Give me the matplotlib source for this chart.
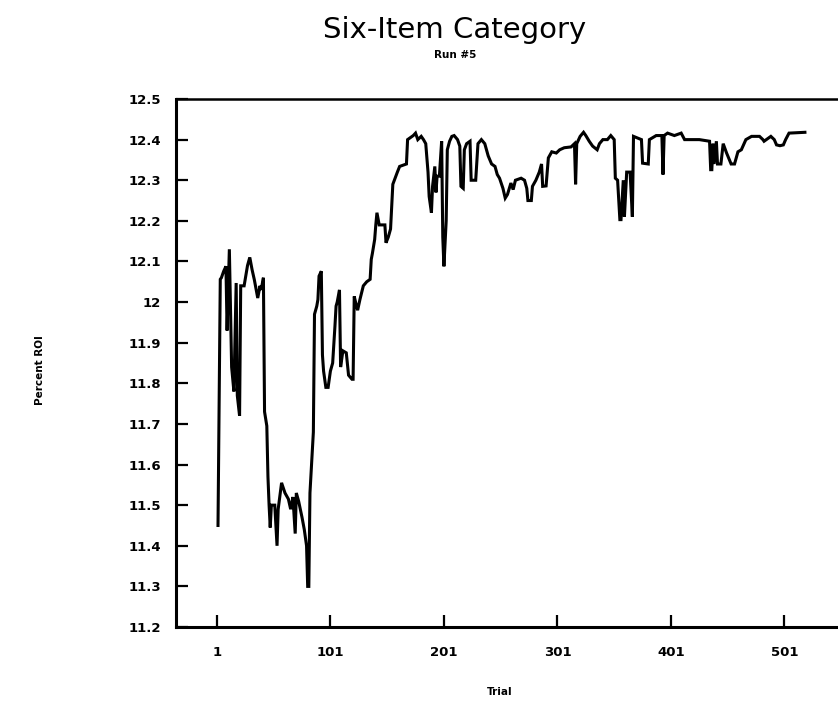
import matplotlib
matplotlib.use("Agg")
import matplotlib.pyplot as plt

# Percent ROI per trial (trial number, value)
trials = [2, 4, 5, 7, 9, 10, 12, 14, 16, 18, 19, 21, 22, 25, 28, 30, 32, 34, 37, 39,
          40, 42, 43, 45, 46, 47, 48, 49, 52, 54, 55, 58, 61, 64, 66, 68, 70, 71, 73, 76,
          78, 80, 81, 82, 83, 86, 87, 89, 90, 91, 93, 94, 95, 97, 99, 101, 103, 105, 106, 107,
          109, 110, 112, 115, 117, 120, 121, 122, 124, 125, 127, 130, 133, 136, 137, 138, 140, 141, 142, 144,
          146, 149, 150, 152, 154, 156, 158, 160, 162, 168, 169, 174, 176, 178, 181, 183, 185, 187, 188, 190,
          191, 193, 194, 195, 197, 199, 200, 201, 202, 203, 204, 206, 208, 210, 213, 215, 216, 218, 219, 221,
          224, 225, 227, 229, 231, 234, 237, 240, 243, 246, 248, 250, 253, 255, 257, 260, 262, 264, 269, 272,
          274, 275, 278, 279, 282, 285, 287, 288, 291, 293, 296, 300, 303, 307, 313, 316, 317, 318, 321, 324,
          326, 329, 332, 336, 338, 341, 345, 348, 351, 352, 354, 356, 357, 359, 360, 362, 365, 367, 368, 375,
          376, 381, 382, 388, 393, 394, 395, 398, 404, 410, 413, 419, 426, 435, 436, 437, 438, 439, 441, 442,
          445, 447, 450, 454, 457, 460, 463, 467, 472, 479, 482, 483, 485, 489, 492, 494, 497, 500, 502, 505,
          519]
roi = [11.45, 12.056, 12.06, 12.076, 12.088, 11.93, 12.13, 11.84, 11.78, 12.047, 11.77, 11.72, 12.04, 12.04, 12.09, 12.11, 12.08, 12.055, 12.01, 12.04,
       12.03, 12.06, 11.73, 11.695, 11.57, 11.50, 11.445, 11.50, 11.50, 11.40, 11.49, 11.555, 11.53, 11.515, 11.49, 11.52, 11.43, 11.53, 11.51, 11.47,
       11.44, 11.40, 11.30, 11.30, 11.53, 11.68, 11.97, 11.99, 12.006, 12.064, 12.076, 11.87, 11.83, 11.79, 11.79, 11.83, 11.85, 11.94, 11.99, 12.0,
       12.03, 11.84, 11.88, 11.875, 11.82, 11.81, 11.81, 12.014, 11.99, 11.98, 12.006, 12.04, 12.05, 12.056, 12.105, 12.12, 12.154, 12.19, 12.22, 12.19,
       12.19, 12.19, 12.146, 12.16, 12.18, 12.29, 12.305, 12.32, 12.334, 12.34, 12.40, 12.41, 12.416, 12.40, 12.408, 12.40, 12.39, 12.32, 12.26, 12.22,
       12.285, 12.334, 12.27, 12.31, 12.31, 12.396, 12.16, 12.088, 12.146, 12.20, 12.375, 12.396, 12.408, 12.41, 12.40, 12.384, 12.285, 12.28, 12.375, 12.39,
       12.396, 12.30, 12.30, 12.30, 12.39, 12.40, 12.39, 12.36, 12.34, 12.334, 12.314, 12.305, 12.28, 12.256, 12.265, 12.293, 12.277, 12.30, 12.305, 12.30,
       12.28, 12.25, 12.25, 12.285, 12.30, 12.32, 12.34, 12.285, 12.286, 12.355, 12.37, 12.367, 12.375, 12.38, 12.382, 12.39, 12.29, 12.39, 12.408, 12.418,
       12.41, 12.396, 12.384, 12.375, 12.39, 12.40, 12.40, 12.41, 12.40, 12.305, 12.30, 12.203, 12.203, 12.30, 12.21, 12.32, 12.32, 12.21, 12.408, 12.40,
       12.342, 12.34, 12.40, 12.41, 12.41, 12.314, 12.41, 12.416, 12.41, 12.416, 12.40, 12.40, 12.40, 12.396, 12.326, 12.326, 12.39, 12.34, 12.396, 12.34,
       12.34, 12.39, 12.367, 12.34, 12.34, 12.37, 12.375, 12.40, 12.408, 12.408, 12.40, 12.396, 12.40, 12.408, 12.40, 12.387, 12.385, 12.387, 12.40, 12.416,
       12.418]

xticks = [1, 101, 201, 301, 401, 501]
yticks = [11.2, 11.3, 11.4, 11.5, 11.6, 11.7, 11.8, 11.9, 12.0, 12.1, 12.2, 12.3, 12.4, 12.5]

fig = plt.figure(figsize=(8.38, 7.04), dpi=100)
# axes box runs past the right edge, as in the scanned page
ax = fig.add_axes([176 / 838, 1 - 627 / 704, 680 / 838, 528 / 704])

ax.plot(trials, roi, color='black', lw=2.2, solid_joinstyle='miter')

ax.set_xlim(-35, 564)
ax.set_ylim(11.2, 12.5)
ax.set_xticks(xticks)
ax.set_xticklabels([str(t) for t in xticks])
ax.set_yticks(yticks)
ax.set_yticklabels(['%g' % v for v in yticks])

ax.spines['right'].set_visible(False)
ax.spines['left'].set_linewidth(2.2)
ax.spines['bottom'].set_linewidth(2.2)
ax.spines['top'].set_linewidth(1.8)

ax.tick_params(direction='in', length=8.5, width=1.6, labelsize=9.5)
ax.tick_params(axis='y', pad=11)
ax.tick_params(axis='x', pad=14)
for lab in ax.get_xticklabels() + ax.get_yticklabels():
    lab.set_fontweight('bold')

fig.text(455 / 838, 1 - 30 / 704, 'Six-Item Category', ha='center', va='center', fontsize=21)
fig.text(455 / 838, 1 - 55 / 704, 'Run #5', ha='center', va='center', fontsize=7.5, fontweight='bold')
fig.text(500 / 838, 1 - 692 / 704, 'Trial', ha='center', va='center', fontsize=7.5, fontweight='bold')
fig.text(40 / 838, 1 - 370 / 704, 'Percent ROI', ha='center', va='center', rotation=90,
         fontsize=7.5, fontweight='bold')

fig.savefig('out.png', dpi=100)
